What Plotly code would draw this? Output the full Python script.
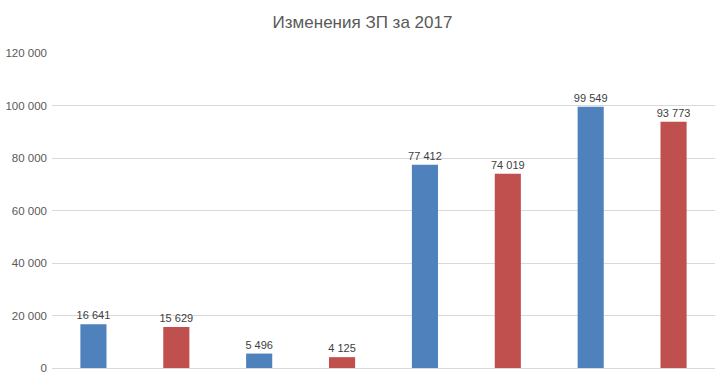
import plotly.graph_objects as go

categories = ["1", "2", "3", "4", "5", "6", "7", "8"]
values = [16641, 15629, 5496, 4125, 77412, 74019, 99549, 93773]
colors = ["#4F81BD", "#C0504D", "#4F81BD", "#C0504D", "#4F81BD", "#C0504D", "#4F81BD", "#C0504D"]
y_ticks = [0, 20000, 40000, 60000, 80000, 100000, 120000]

FONT = "Liberation Sans, Arial"

fig = go.Figure(go.Bar(
    x=categories, y=values,
    marker=dict(color=colors, line=dict(width=0)),
    width=0.315,
    texttemplate="%{y:,d}", textposition="outside", constraintext="none",
    textfont=dict(family=FONT, size=11, color="#404040"),
    cliponaxis=False,
))

fig.update_layout(
    width=725, height=375,
    margin=dict(l=52, r=10, t=53, b=7, autoexpand=False),
    paper_bgcolor="white", plot_bgcolor="white",
    separators=", ",
    showlegend=False,
    title=dict(text="Изменения ЗП за 2017", x=0.5, xanchor="center",
               y=1 - 22/375, yanchor="middle", yref="container",
               font=dict(family=FONT, size=17, color="#595959")),
    font=dict(family=FONT, size=12, color="#595959"),
    xaxis=dict(showticklabels=False, showgrid=False, showline=True, linecolor="#D9D9D9",
               linewidth=1, ticks="", zeroline=False, automargin=False),
    yaxis=dict(range=[0, 120000], tickvals=y_ticks, tickformat=",d",
               showgrid=True, gridcolor="#D9D9D9", gridwidth=1, zeroline=False,
               showline=False, ticks="", ticklabelstandoff=4, automargin=False,
               tickfont=dict(size=11.5, color="#595959")),
)

fig.write_html("out.html", config={"displayModeBar": False},
               post_script="document.body.style.margin='0';document.body.style.padding='0';document.body.style.overflow='hidden';")
